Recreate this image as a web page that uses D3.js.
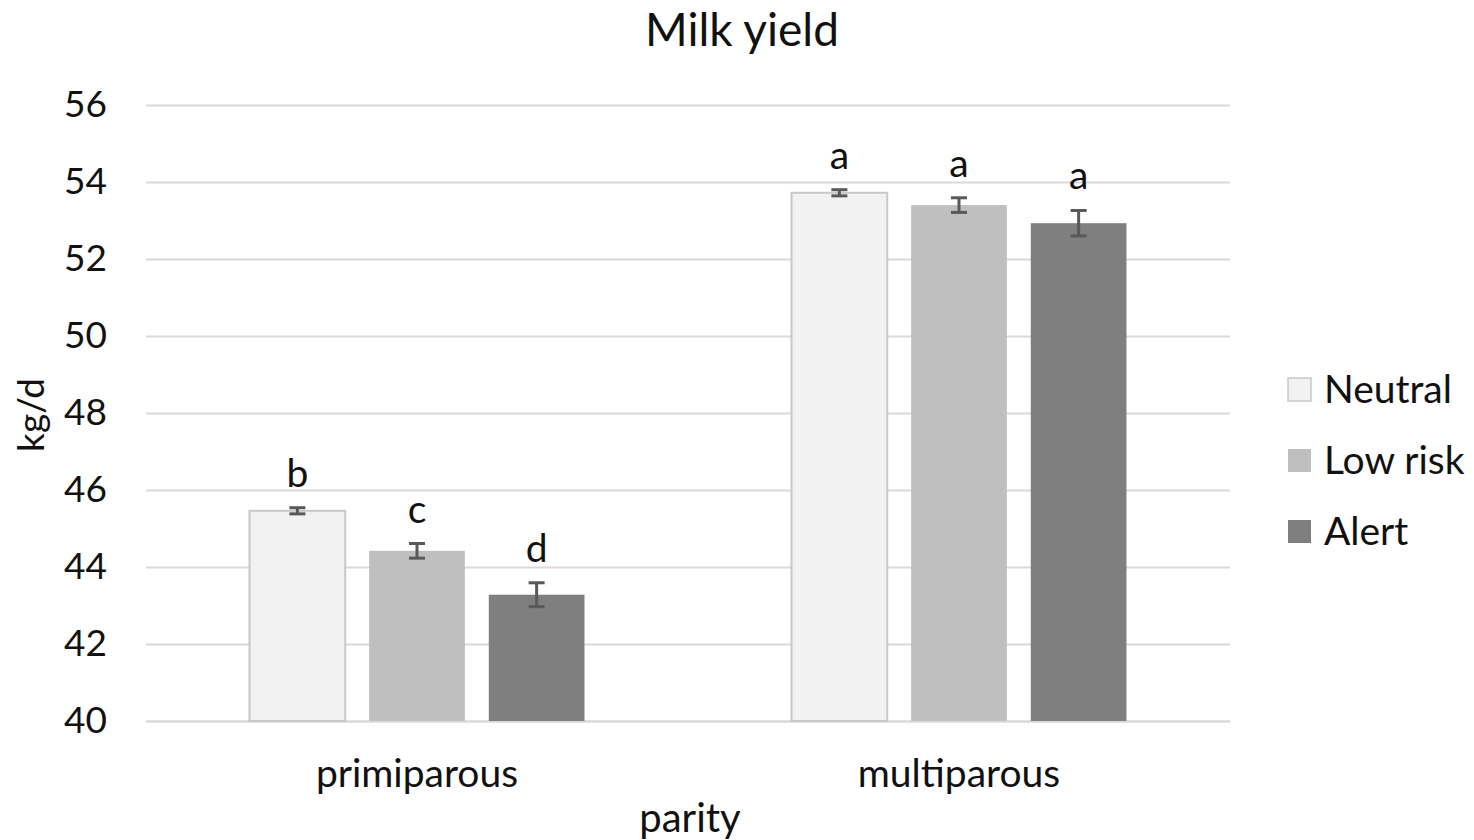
<!DOCTYPE html>
<html>
<head>
<meta charset="utf-8">
<script src="https://cdn.jsdelivr.net/npm/d3@7"></script>
<style>
  body { margin: 0; background: #fff; }
  text { font-family: Lato, "Open Sans", sans-serif; fill: #111; }
</style>
</head>
<body>
<svg id="chart" width="1474" height="840"></svg>
<script>
const categories = ['primiparous', 'multiparous']
const series = ['Neutral', 'Low risk', 'Alert']
// mean milk yield per category, one array per series
const neutralValues = [45.46, 53.72]
const lowRiskValues = [44.42, 53.40]
const alertValues = [43.28, 52.93]
// standard errors
const neutralErrors = [0.08, 0.08]
const lowRiskErrors = [0.19, 0.19]
const alertErrors = [0.31, 0.33]
// significance letters
const neutralLetters = ['b', 'a']
const lowRiskLetters = ['c', 'a']
const alertLetters = ['d', 'a']
const yTicks = [40, 42, 44, 46, 48, 50, 52, 54, 56]

const seriesColors = ['#f2f2f2', '#bfbfbf', '#7f7f7f']

const values = [neutralValues, lowRiskValues, alertValues]
const errors = [neutralErrors, lowRiskErrors, alertErrors]
const letters = [neutralLetters, lowRiskLetters, alertLetters]

const data = []
categories.forEach((cat, ci) => {
  series.forEach((s, si) => {
    data.push({cat, series: s, si, value: values[si][ci], err: errors[si][ci], letter: letters[si][ci]})
  })
})

const svg = d3.select('#chart')
const margin = {left: 146, right: 244, top: 105, bottom: 119}
const width = 1474 - margin.left - margin.right
const height = 840 - margin.top - margin.bottom

const g = svg.append('g')
  .attr('transform', `translate(${margin.left}, ${margin.top})`)

// scales
const x0 = d3.scaleBand()
  .domain(categories)
  .range([0, width])
  .paddingInner(0.382)
  .paddingOuter(0.191)

const x1 = d3.scaleBand()
  .domain(series)
  .range([0, x0.bandwidth()])
  .paddingInner(0.2)

const y = d3.scaleLinear()
  .domain([40, 56])
  .range([height, 0])

// horizontal grid
g.append('g')
  .call(d3.axisLeft(y).tickValues(yTicks).tickSize(-width).tickFormat(''))
  .call(a => a.select('.domain').remove())
  .selectAll('line')
  .attr('stroke', '#d9d9d9')
  .attr('stroke-width', 2)

// y tick labels
const yAxis = g.append('g')
  .call(d3.axisLeft(y).tickValues(yTicks).tickSize(0).tickPadding(39))
yAxis.select('.domain').remove()
yAxis.selectAll('text')
  .attr('font-size', 37)
  .attr('font-family', 'Lato, sans-serif')
  .attr('fill', '#111')

// x axis baseline and category labels
const xAxis = g.append('g')
  .attr('transform', `translate(0, ${height})`)
  .call(d3.axisBottom(x0).tickSize(0).tickPadding(38))
xAxis.select('.domain').attr('stroke', '#d9d9d9').attr('stroke-width', 2)
xAxis.selectAll('text')
  .attr('font-size', 39)
  .attr('font-family', 'Lato, sans-serif')
  .attr('fill', '#111')

// bars
const groups = g.selectAll('.grp')
  .data(data)
  .enter()
  .append('g')
  .attr('transform', d => `translate(${x0(d.cat) + x1(d.series)}, 0)`)

groups.append('rect')
  .attr('x', 0)
  .attr('y', d => y(d.value))
  .attr('width', x1.bandwidth())
  .attr('height', d => y(40) - y(d.value))
  .attr('fill', d => seriesColors[d.si])
  .attr('stroke', d => d.si === 0 ? '#c8c8c8' : 'none')
  .attr('stroke-width', 2)

// error bars
const cx = x1.bandwidth() / 2
const capW = 8
groups.append('line')
  .attr('x1', cx).attr('x2', cx)
  .attr('y1', d => y(d.value + d.err))
  .attr('y2', d => y(d.value - d.err))
  .attr('stroke', '#595959').attr('stroke-width', 3)
groups.append('line')
  .attr('x1', cx - capW).attr('x2', cx + capW)
  .attr('y1', d => y(d.value + d.err))
  .attr('y2', d => y(d.value + d.err))
  .attr('stroke', '#595959').attr('stroke-width', 3)
groups.append('line')
  .attr('x1', cx - capW).attr('x2', cx + capW)
  .attr('y1', d => y(d.value - d.err))
  .attr('y2', d => y(d.value - d.err))
  .attr('stroke', '#595959').attr('stroke-width', 3)

// significance letters
groups.append('text')
  .attr('x', cx)
  .attr('y', d => y(d.value + d.err) - 21)
  .attr('text-anchor', 'middle')
  .attr('font-size', 39)
  .text(d => d.letter)

// title
svg.append('text')
  .attr('x', 742)
  .attr('y', 46)
  .attr('text-anchor', 'middle')
  .attr('font-size', 46)
  .text('Milk yield')

// axis titles
svg.append('text')
  .attr('transform', 'translate(44, 415) rotate(-90)')
  .attr('text-anchor', 'middle')
  .attr('font-size', 37)
  .text('kg/d')

svg.append('text')
  .attr('x', 690)
  .attr('y', 832)
  .attr('text-anchor', 'middle')
  .attr('font-size', 40)
  .text('parity')

// legend
const legend = svg.append('g')
  .attr('transform', 'translate(1288, 378)')
const items = legend.selectAll('g')
  .data(series)
  .enter()
  .append('g')
  .attr('transform', (d, i) => `translate(0, ${i * 71})`)
items.append('rect')
  .attr('width', 23)
  .attr('height', 23)
  .attr('fill', (d, i) => seriesColors[i])
  .attr('stroke', (d, i) => i === 0 ? '#c8c8c8' : 'none')
  .attr('stroke-width', 1.5)
items.append('text')
  .attr('x', 36)
  .attr('y', 25)
  .attr('font-size', 39)
  .text(d => d)
</script>
</body>
</html>
